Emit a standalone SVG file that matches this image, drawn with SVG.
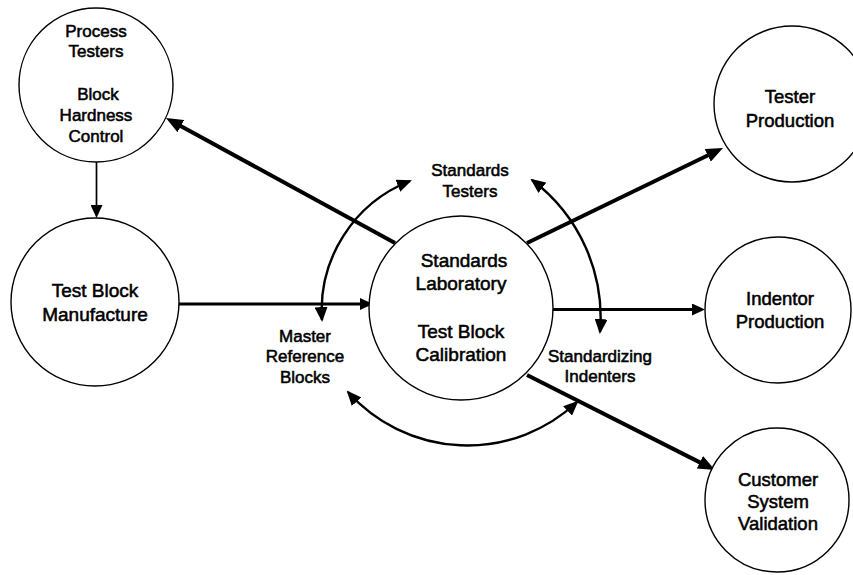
<svg xmlns="http://www.w3.org/2000/svg" width="853" height="575" viewBox="0 0 853 575">
  <style>
    .node circle { fill: #fff; stroke: #000; stroke-width: 1.4; }
    text { font-family: "Liberation Sans", Arial, sans-serif; fill: #000; stroke: #000; stroke-width: 0.55; text-anchor: middle; }
    .lg { font-size: 19px; }
    .md { font-size: 18.5px; }
    .sm { font-size: 17px; }
    .edge { fill: none; stroke: #000; stroke-linecap: butt; }
    .thick { stroke-width: 4; }
    .mid { stroke-width: 2.8; }
    .thin { stroke-width: 1.7; }
    .arc { stroke-width: 2.4; }
  </style>
  <defs>
    <marker id="big-head" viewBox="0 0 17 14" refX="5" refY="7" markerWidth="17" markerHeight="14" markerUnits="userSpaceOnUse" orient="auto">
      <path d="M0,0 L17,7 L0,14 z" fill="#000"/>
    </marker>
    <marker id="line-head" viewBox="0 0 13 12" refX="4" refY="6" markerWidth="13" markerHeight="12" markerUnits="userSpaceOnUse" orient="auto">
      <path d="M0,0 L13,6 L0,12 z" fill="#000"/>
    </marker>
    <marker id="arc-head" viewBox="0 0 15 13" refX="13" refY="6.5" markerWidth="15" markerHeight="13" markerUnits="userSpaceOnUse" orient="auto-start-reverse">
      <path d="M0,0 L15,6.5 L0,13 z" fill="#000"/>
    </marker>
  </defs>

  <!-- connectors -->
  <g id="connectors">
    <path class="edge thin" d="M96.5,162 L96.5,209" marker-end="url(#line-head)"/>
    <path class="edge mid" d="M178,304 L364,304" marker-end="url(#line-head)"/>
    <path class="edge mid" d="M553,309.5 L696,309.5" marker-end="url(#line-head)"/>
    <path class="edge thick" d="M395,243 L176.5,123.7" marker-end="url(#big-head)"/>
    <path class="edge thick" d="M527,243 L712.2,153.2" marker-end="url(#big-head)"/>
    <path class="edge thick" d="M527,375 L704.3,464.6" marker-end="url(#big-head)"/>
    <!-- two-way exchanges around the laboratory -->
    <path class="edge arc" d="M410,181 A139,139 0 0 0 322,320" marker-start="url(#arc-head)" marker-end="url(#arc-head)"/>
    <path class="edge arc" d="M532,180 A172,172 0 0 1 600,332" marker-start="url(#arc-head)" marker-end="url(#arc-head)"/>
    <path class="edge arc" d="M348,392 A160,160 0 0 0 577,402" marker-start="url(#arc-head)" marker-end="url(#arc-head)"/>
  </g>

  <!-- exchange labels -->
  <g id="labels">
    <text class="sm" x="470" y="176">Standards</text>
    <text class="sm" x="470" y="197">Testers</text>
    <text class="sm" x="305" y="342">Master</text>
    <text class="sm" x="305" y="362">Reference</text>
    <text class="sm" x="305" y="383">Blocks</text>
    <text class="sm" x="600" y="362">Standardizing</text>
    <text class="sm" x="600" y="382">Indenters</text>
  </g>

  <g id="process-testers" class="node">
    <circle cx="96" cy="85" r="77"/>
    <text class="sm" x="96" y="37">Process</text>
    <text class="sm" x="96" y="57">Testers</text>
    <text class="sm" x="98" y="100">Block</text>
    <text class="sm" x="96" y="121">Hardness</text>
    <text class="sm" x="96" y="142">Control</text>
  </g>

  <g id="test-block-manufacture" class="node">
    <circle cx="95" cy="302" r="84"/>
    <text class="lg" x="95" y="297">Test Block</text>
    <text class="lg" x="95" y="321">Manufacture</text>
  </g>

  <g id="standards-laboratory" class="node">
    <circle cx="461" cy="308" r="92"/>
    <text class="lg" x="464" y="267">Standards</text>
    <text class="lg" x="461" y="290">Laboratory</text>
    <text class="lg" x="461" y="338">Test Block</text>
    <text class="lg" x="461" y="361">Calibration</text>
  </g>

  <g id="tester-production" class="node">
    <circle cx="792" cy="104" r="78"/>
    <text class="md" x="790" y="103">Tester</text>
    <text class="md" x="790" y="127">Production</text>
  </g>

  <g id="indentor-production" class="node">
    <circle cx="778" cy="310" r="73"/>
    <text class="md" x="780" y="305">Indentor</text>
    <text class="md" x="780" y="328">Production</text>
  </g>

  <g id="customer-system-validation" class="node">
    <circle cx="777" cy="500" r="72"/>
    <text class="md" x="778" y="486">Customer</text>
    <text class="md" x="778" y="508">System</text>
    <text class="md" x="778" y="530">Validation</text>
  </g>
</svg>
